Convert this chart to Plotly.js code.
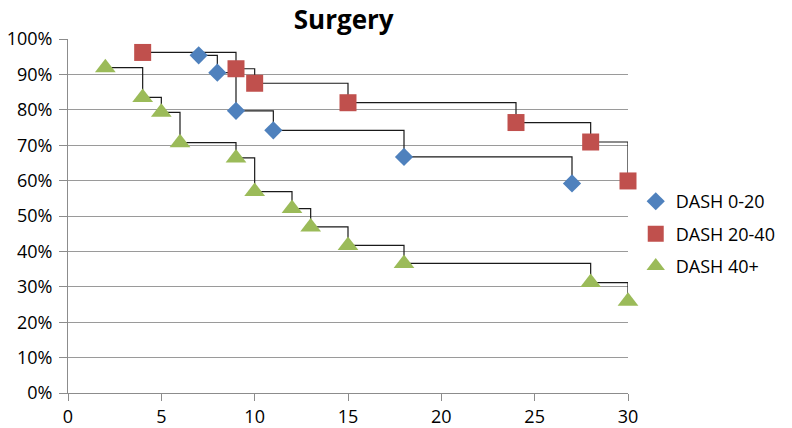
<!DOCTYPE html>
<html>
<head>
<meta charset="utf-8">
<script src="https://cdn.plot.ly/plotly-3.0.1.min.js"></script>
<style>
html,body{margin:0;padding:0;background:#fff;}
#chart{width:792px;height:428px;}
</style>
</head>
<body>
<div id="chart"></div>
<script>
// Data (time, survival %)
const seriesNames = ["DASH 0-20", "DASH 20-40", "DASH 40+"];
const blueX = [7, 8, 9, 11, 18, 27];
const blueY = [95.4, 90.5, 79.7, 74.2, 66.7, 59.2];
const redX = [4, 9, 10, 15, 24, 28, 30];
const redY = [96.2, 91.6, 87.5, 82.0, 76.4, 70.9, 59.9];
const greenX = [2, 4, 5, 6, 9, 10, 12, 13, 15, 18, 28, 30];
const greenY = [91.9, 83.5, 79.3, 70.7, 66.4, 56.9, 52.1, 46.9, 41.7, 36.6, 31.2, 25.9];
const xTicks = [0, 5, 10, 15, 20, 25, 30];
const yTicks = [0, 10, 20, 30, 40, 50, 60, 70, 80, 90, 100];
const yTickText = yTicks.map(v => v + "%");

const colors = ["#4F81BD", "#C0504D", "#9BBB59"];
const symbols = ["diamond", "square", "triangle-up"];
const sizes = [14, 17, 18];
const xs = [blueX, redX, greenX];
const ys = [blueY, redY, greenY];

const traces = [];
for (let i = 0; i < 3; i++) {
  traces.push({
    x: xs[i], y: ys[i], type: "scatter", mode: "lines",
    line: {shape: "hv", color: "#1a1a1a", width: 1.2},
    showlegend: false, hoverinfo: "skip", cliponaxis: false
  });
}
for (let i = 0; i < 3; i++) {
  traces.push({
    x: xs[i], y: ys[i], type: "scatter", mode: "markers", name: seriesNames[i],
    legendgroup: "g" + i, cliponaxis: false,
    marker: {symbol: symbols[i], size: sizes[i], color: colors[i], line: {width: 0}}
  });
}

const layout = {
  width: 792, height: 428,
  margin: {l: 68, r: 163, t: 39, b: 35, pad: 0},
  paper_bgcolor: "#ffffff", plot_bgcolor: "#ffffff",
  font: {family: "Open Sans, sans-serif", size: 18, color: "#000"},
  title: {text: "<b>Surgery</b>", font: {family: "Open Sans, sans-serif", size: 26, color: "#000"},
          x: 0.434, xanchor: "center", y: 0.975, yanchor: "top"},
  showlegend: true,
  legend: {x: 1.012, xanchor: "left", y: 0.449, yanchor: "middle",
           font: {family: "Open Sans, sans-serif", size: 18, color: "#000"},
           bgcolor: "rgba(0,0,0,0)", traceorder: "grouped", tracegroupgap: 6},
  xaxis: {range: [0, 30], tickvals: xTicks, ticktext: xTicks.map(String),
          showgrid: false, zeroline: false, showline: true, linecolor: "#8c8c8c", linewidth: 1,
          ticks: "outside", ticklen: 7, tickcolor: "#8c8c8c", tickwidth: 1,
          ticklabelstandoff: 0, tickfont: {size: 18}, fixedrange: true},
  yaxis: {range: [0, 100], tickvals: yTicks, ticktext: yTickText,
          showgrid: true, gridcolor: "#9a9a9a", gridwidth: 1, zeroline: false,
          showline: true, linecolor: "#8c8c8c", linewidth: 1,
          ticks: "outside", ticklen: 8, tickcolor: "#8c8c8c", tickwidth: 1,
          ticklabelstandoff: 3, tickfont: {size: 18}, fixedrange: true}
};

Plotly.newPlot("chart", traces, layout, {displayModeBar: false, staticPlot: true});
</script>
</body>
</html>
